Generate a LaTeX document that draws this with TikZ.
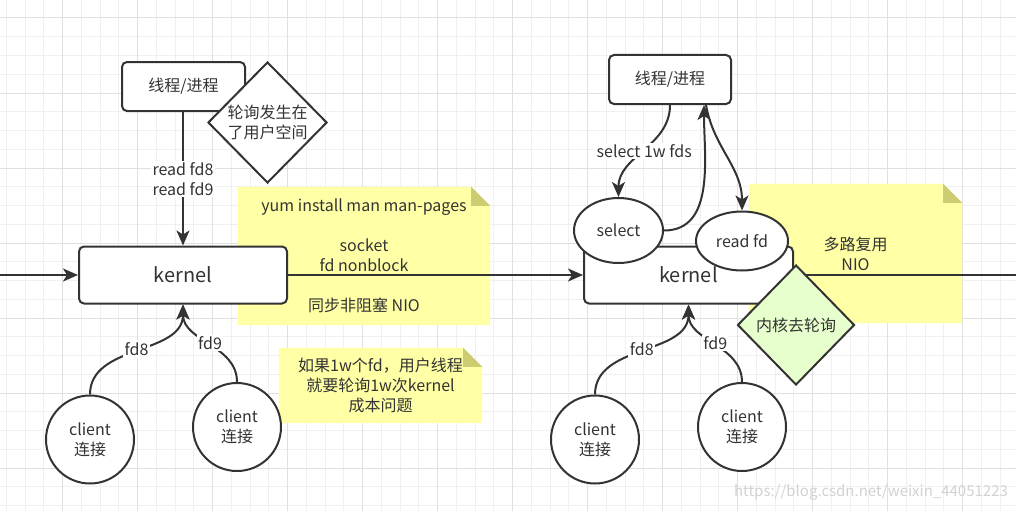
\documentclass[tikz,border=0pt]{standalone}
\usepackage{fontspec}
\setmainfont{Noto Sans CJK SC}
\usetikzlibrary{arrows.meta,shapes.geometric,backgrounds}
\definecolor{ink}{HTML}{333333}
\definecolor{notey}{HTML}{FFFFA6}
\definecolor{notefold}{HTML}{CCCC73}
\definecolor{greenfill}{HTML}{E6FFCC}
\definecolor{gridmin}{HTML}{F0F0F0}
\definecolor{gridmaj}{HTML}{E0E0E0}
\definecolor{wmark}{HTML}{D2D2D2}
\tikzset{
  every node/.style={font=\fontsize{16}{20}\selectfont, text=ink, align=center},
  ln/.style={draw=ink, line width=2pt},
  arr/.style={ln, -{Stealth[length=15pt,width=13pt,inset=4pt]}},
  procbox/.style={draw=ink, line width=2pt, rounded corners=5pt, fill=white, inner sep=0pt},
  kernbox/.style={procbox, font=\fontsize{20}{24}\selectfont},
  client/.style={circle, draw=ink, line width=2pt, fill=white, minimum size=88pt, inner sep=0pt},
  oval/.style={ellipse, draw=ink, line width=2pt, fill=white, inner sep=0pt},
  diam/.style={diamond, draw=ink, line width=2pt, inner sep=0pt},
  notebox/.style={inner sep=0pt},
  elabel/.style={fill=white, inner sep=1.5pt},
}
\newcommand{\notefill}[1]{%
  \fill[notey] (#1.south west) -- (#1.north west) -- ([xshift=-19pt]#1.north east)
    -- ([yshift=-19pt]#1.north east) -- (#1.south east) -- cycle;
  \fill[notefold] ([xshift=-19pt]#1.north east) -- ([xshift=-19pt,yshift=-19pt]#1.north east)
    -- ([yshift=-19pt]#1.north east) -- cycle;}
\begin{document}
\begin{tikzpicture}[x=1pt,y=-1pt]
\useasboundingbox (0,0) rectangle (1016,511);
\begin{scope}[on background layer]
  \fill[white] (0,0) rectangle (1016,511);
  \foreach \k in {0,...,54} \draw[gridmin, line width=1pt] ({6.45+18.75*\k},0) -- ({6.45+18.75*\k},511);
  \foreach \k in {1,...,27} \draw[gridmin, line width=1pt] (0,{-0.75+18.75*\k}) -- (1016,{-0.75+18.75*\k});
  \foreach \k in {0,...,12} \draw[gridmaj, line width=1pt] ({62.7+75*\k},0) -- ({62.7+75*\k},511);
  \foreach \k in {0,...,6} \draw[gridmaj, line width=1pt] (0,{18+75*\k}) -- (1016,{18+75*\k});
\end{scope}

% ---------- notes ----------
\node[notebox, minimum width=252pt, minimum height=138pt] (n1) at (364,256)
  {yum install man man-pages\\[20pt]socket\\fd nonblock\\[20pt]同步非阻塞 NIO};
\node[notebox, minimum width=203pt, minimum height=75pt] (n2) at (380.5,385.5)
  {如果1w个fd，用户线程\\就要轮询1w次kernel\\成本问题};
\node[notebox, minimum width=213pt, minimum height=139pt] (n3) at (855.5,253.5)
  {多路复用\\NIO};
\begin{scope}[on background layer]
  \notefill{n1}
  \notefill{n2}
  \notefill{n3}
\end{scope}

% ---------- left diagram ----------
\node[procbox, minimum width=123pt, minimum height=49pt] (p1) at (183.5,86.5) {线程/进程};
\node[diam, fill=white, minimum width=119pt, minimum height=121pt] (d1) at (267.5,122.5) {轮询发生在\\了用户空间};
\node[kernbox, minimum width=208pt, minimum height=57pt] (k1) at (183,275) {kernel};
\node[client] (c1) at (90,439.5) {client\\连接};
\node[client] (c2) at (237,427) {client\\连接};
\coordinate (inL) at (0,275);

\draw[arr] (p1.south -| k1.north) -- node[elabel] {read fd8\\read fd9} (k1.north);
\draw[arr] (inL) -- (k1.west);
\draw[arr] (c1.north) to[out=90,in=-90] node[elabel] {fd8} (k1.south);
\draw[arr] (c2.north) to[out=90,in=-90] node[elabel] {fd9} (k1.south);

% ---------- right diagram ----------
\node[procbox, minimum width=122pt, minimum height=49pt] (p2) at (670,79.5) {线程/进程};
\node[kernbox, minimum width=209pt, minimum height=57pt] (k2) at (688.5,275) {kernel};
\node[oval, minimum width=89pt, minimum height=65pt] (sel) at (618.5,230.5) {select};
\node[oval, minimum width=92pt, minimum height=59pt] (rd) at (742,241) {read fd};
\node[client] (c3) at (595,439.5) {client\\连接};
\node[client] (c4) at (742,427) {client\\连接};
\coordinate (outR) at (1016,275);

\draw[arr] (k1.east) -- (k2.west);
\draw[ln] (k2.east) -- (outR);
\draw[arr] (p2.south) to[out=-90,in=90] node[elabel] {select 1w fds} (sel.north);
\draw[arr] (sel.east) to[out=0,in=-90] ([xshift=34pt]p2.south);
\draw[arr] ([xshift=36pt]p2.south) to[out=-80,in=90] (rd.north);
\draw[arr] (c3.north) to[out=90,in=-90] node[elabel] {fd8} (k2.south);
\draw[arr] (c4.north) to[out=90,in=-90] node[elabel] {fd9} (k2.south);

\node[diam, fill=greenfill, minimum width=117pt, minimum height=120pt] (d2) at (796,325) {内核去轮询};

% watermark
\node[text=wmark, font=\fontsize{15}{18}\selectfont] (wm) at (871,492) {https://blog.csdn.net/weixin\_44051223};
\end{tikzpicture}
\end{document}
